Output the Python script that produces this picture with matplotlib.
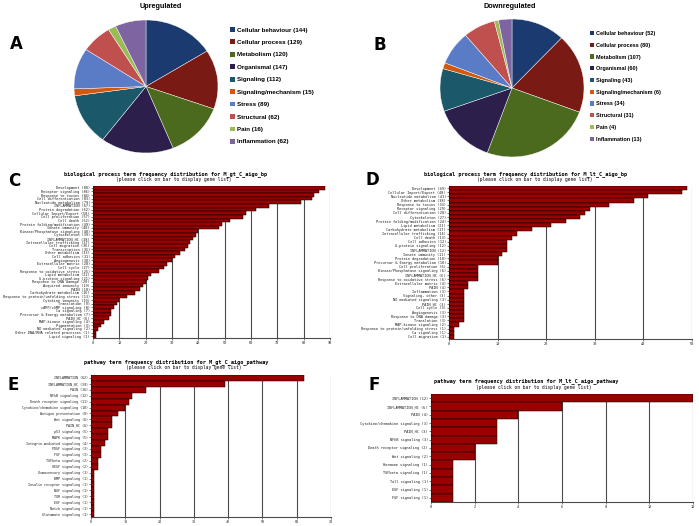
import numpy as np
import matplotlib
matplotlib.use("Agg")
import matplotlib.pyplot as plt
from matplotlib.patches import Patch

W, H = 699, 526
fig = plt.figure(figsize=(W / 100, H / 100), dpi=100)
fig.patch.set_facecolor("white")

# ---------------- data ----------------
pie_cats = ["Cellular behaviour", "Cellular process", "Metabolism", "Organismal",
            "Signaling", "Signaling/mechanism", "Stress", "Structural", "Pain",
            "Inflammation"]
up_vals = [144, 129, 120, 147, 112, 15, 89, 62, 16, 62]
down_vals = [52, 80, 107, 60, 43, 6, 34, 31, 4, 13]
pie_colors = ["#1B3A6F", "#7A1A14", "#4C6A1E", "#2D1F4B", "#1B596A", "#D2580F",
              "#5A7CC6", "#C0504D", "#9BBB59", "#7E64A0"]

c_cats = ["Development", "Receptor signaling", "Response to toxins", "Cell differentiation",
          "Nucleotide metabolism", "INFLAMMATION", "Protein degradation",
          "Cellular Import/Export", "Cell proliferation", "Cell death",
          "Protein folding/modification", "Innate immunity", "Kinase/Phosphatase signaling",
          "Cytoskeleton", "INFLAMMATION_HC", "Intracellular trafficking", "Cell migration",
          "Transcription", "Other metabolism", "Cell adhesion", "Angiogenesis",
          "Extracellular matrix", "Cell cycle", "Response to oxidative stress",
          "Lipid metabolism", "G-protein signaling", "Response to DNA damage",
          "Acquired immunity", "PAIN", "Carbohydrate metabolism",
          "Response to protein/unfolding stress", "Cytokine immunity", "Translation",
          "cAMP/cGMP signaling", "Ca signaling", "Precursor & Energy metabolism", "PAIN_HC",
          "MAP-kinase signaling", "Pigmentation", "NO mediated signaling",
          "Other DNA/RNA related processes", "Lipid signaling"]
c_vals = [88, 86, 84, 83, 79, 67, 62, 58, 57, 52, 49, 48, 40, 39, 38, 37, 36, 35, 33, 31,
          30, 28, 27, 25, 22, 21, 20, 19, 18, 16, 13, 10, 9, 8, 7, 7, 6, 4, 3, 2, 1, 1]

d_cats = ["Development", "Cellular Import/Export", "Nucleotide metabolism", "Other metabolism",
          "Response to toxins", "Receptor signaling", "Cell differentiation", "Cytoskeleton",
          "Protein folding/modification", "Lipid metabolism", "Carbohydrate metabolism",
          "Intracellular trafficking", "Cell death", "Cell adhesion", "G-protein signaling",
          "INFLAMMATION", "Innate immunity", "Protein degradation",
          "Precursor & Energy metabolism", "Cell proliferation",
          "Kinase/Phosphatase signaling", "INFLAMMATION_HC", "Response to oxidative stress",
          "Extracellular matrix", "PAIN", "Inflammation", "Signaling, other",
          "NO mediated signaling", "PAIN_HC", "Cell cycle", "Angiogenesis",
          "Response to DNA damage", "Translation", "MAP-kinase signaling",
          "Response to protein/unfolding stress", "Ca signaling", "Cell migration"]
d_vals = [49, 48, 41, 38, 33, 29, 28, 27, 24, 21, 17, 14, 13, 12, 12, 12, 11, 10, 10,
          6, 6, 6, 6, 4, 4, 3, 3, 3, 3, 3, 3, 3, 3, 2, 1, 1, 1]

e_cats = ["INFLAMMATION", "INFLAMMATION_HC", "PAIN", "NFkB signaling",
          "Death receptor signaling", "Cytokine/chemokine signaling", "Antigen presentation",
          "Wnt signaling", "PAIN_HC", "p53 signaling", "MAPK signaling",
          "Integrin-mediated signaling", "PDGF signaling", "FGF signaling",
          "TGFbeta signaling", "VEGF signaling", "Osmosensory signaling", "BMP signaling",
          "Insulin receptor signaling", "NGF signaling", "TOR signaling", "EGF signaling",
          "Notch signaling", "Glutamate signaling"]
e_vals = [62, 39, 16, 12, 11, 10, 8, 6, 6, 5, 5, 4, 3, 3, 2, 2, 1, 1, 1, 1, 1, 1, 1, 1]

f_cats = ["INFLAMMATION", "INFLAMMATION_HC", "PAIN", "Cytokine/chemokine signaling",
          "PAIN_HC", "NFkB signaling", "Death receptor signaling", "Wnt signaling",
          "Hormone signaling", "TGFbeta signaling", "Toll signaling", "EGF signaling",
          "FGF signaling"]
f_vals = [12, 6, 4, 3, 3, 3, 2, 2, 1, 1, 1, 1, 1]


def px_axes(x0, y0, x1, y1):
    return fig.add_axes([x0 / W, 1 - y1 / H, (x1 - x0) / W, (y1 - y0) / H])


def ftext(x, y, s, **kw):
    fig.text(x / W, 1 - y / H, s, **kw)


# ---------------- pies ----------------
def pie_panel(rect, vals, title, tx, ty, leg_xy, leg_fs, leg_ls):
    ax = px_axes(*rect)
    ax.pie(vals, colors=pie_colors, startangle=90, counterclock=False,
           wedgeprops=dict(edgecolor="white", linewidth=0.3))
    ax.set_aspect("auto")
    ax.set_xlim(-1, 1)
    ax.set_ylim(-1, 1)
    ax.axis("off")
    ftext(tx, ty, title, ha="center", va="center", fontsize=5.2, fontweight="bold",
          family="Liberation Sans")
    handles = [Patch(facecolor=c, edgecolor="none") for c in pie_colors]
    labels = [f"{c} ({v})" for c, v in zip(pie_cats, vals)]
    fig.legend(handles, labels, loc="upper left",
               bbox_to_anchor=(leg_xy[0] / W, 1 - leg_xy[1] / H),
               bbox_transform=fig.transFigure, frameon=False,
               prop=dict(family="Liberation Sans", weight="bold", size=leg_fs),
               handlelength=0.8, handleheight=0.8, handletextpad=0.35,
               labelspacing=leg_ls, borderpad=0, borderaxespad=0)


pie_panel((74, 20, 218, 153), up_vals, "Upregulated", 161, 7, (230, 27), 4.5, 1.1)
pie_panel((440, 19, 584, 157), down_vals, "Downregulated", 510, 7, (590, 31), 4.0, 1.2)

# ---------------- bar charts ----------------
BAR = "#990000"


def bar_panel(rect, cats, vals, xmax, step, fs, title, sub, tx, ty, sx, sy):
    ax = px_axes(*rect)
    n = len(cats)
    y = np.arange(n)
    ax.barh(y, vals, height=1.0, color=BAR, edgecolor="black", linewidth=0.35, zorder=3)
    ax.set_ylim(n - 0.5, -0.5)
    ax.set_xlim(0, xmax)
    ticks = np.arange(0, xmax + step / 2, step)
    ax.set_xticks(ticks)
    ax.set_xticklabels([f"{t:g}" for t in ticks])
    ax.set_yticks(y)
    ax.set_yticklabels([f"{c} ({v})" for c, v in zip(cats, vals)])
    for t in ticks[1:]:
        ax.axvline(t, color="#4a4a4a", lw=0.8, zorder=1)
    ax.spines["top"].set_visible(False)
    ax.spines["right"].set_visible(False)
    for s in ("left", "bottom"):
        ax.spines[s].set_color("#4a4a4a")
        ax.spines[s].set_linewidth(0.8)
    ax.tick_params(axis="both", length=1.5, width=0.4, pad=0.8, colors="#222222")
    for lab in ax.get_yticklabels() + ax.get_xticklabels():
        lab.set_family("DejaVu Sans Mono")
        lab.set_fontsize(fs)
    ftext(tx, ty, title, ha="center", va="center", fontsize=3.8, fontweight="bold",
          family="DejaVu Sans Mono")
    ftext(sx, sy, sub, ha="center", va="center", fontsize=3.3,
          family="DejaVu Sans Mono")


sub = "(please click on bar to display gene list)"
bar_panel((93, 186, 330, 338), c_cats, c_vals, 90, 10, 2.6,
          "biological process term frequency distribution for M_gt_C_aigo_bp", sub,
          166, 174, 174, 180)
bar_panel((449, 186, 692, 339), d_cats, d_vals, 50, 10, 2.6,
          "biological process term frequency distribution for M_lt_C_aigo_bp", sub,
          526, 174, 535, 180)
bar_panel((91, 375, 331, 517), e_cats, e_vals, 70, 10, 2.4,
          "pathway term frequency distribution for M_gt_C_aigo_pathway", sub,
          176, 362, 184, 368)
bar_panel((431, 394, 693, 502), f_cats, f_vals, 12, 2, 2.6,
          "pathway term frequency distribution for M_lt_C_aigo_pathway", sub,
          526, 381, 534, 387)

# ---------------- panel letters ----------------
for letter, x, y in [("A", 16, 44), ("B", 380, 45), ("C", 14, 181), ("D", 372, 180),
                     ("E", 13, 385), ("F", 374, 385)]:
    ftext(x, y, letter, ha="center", va="center", fontsize=12, fontweight="bold",
          family="DejaVu Sans")

fig.savefig("out.png", dpi=100, facecolor="white")
